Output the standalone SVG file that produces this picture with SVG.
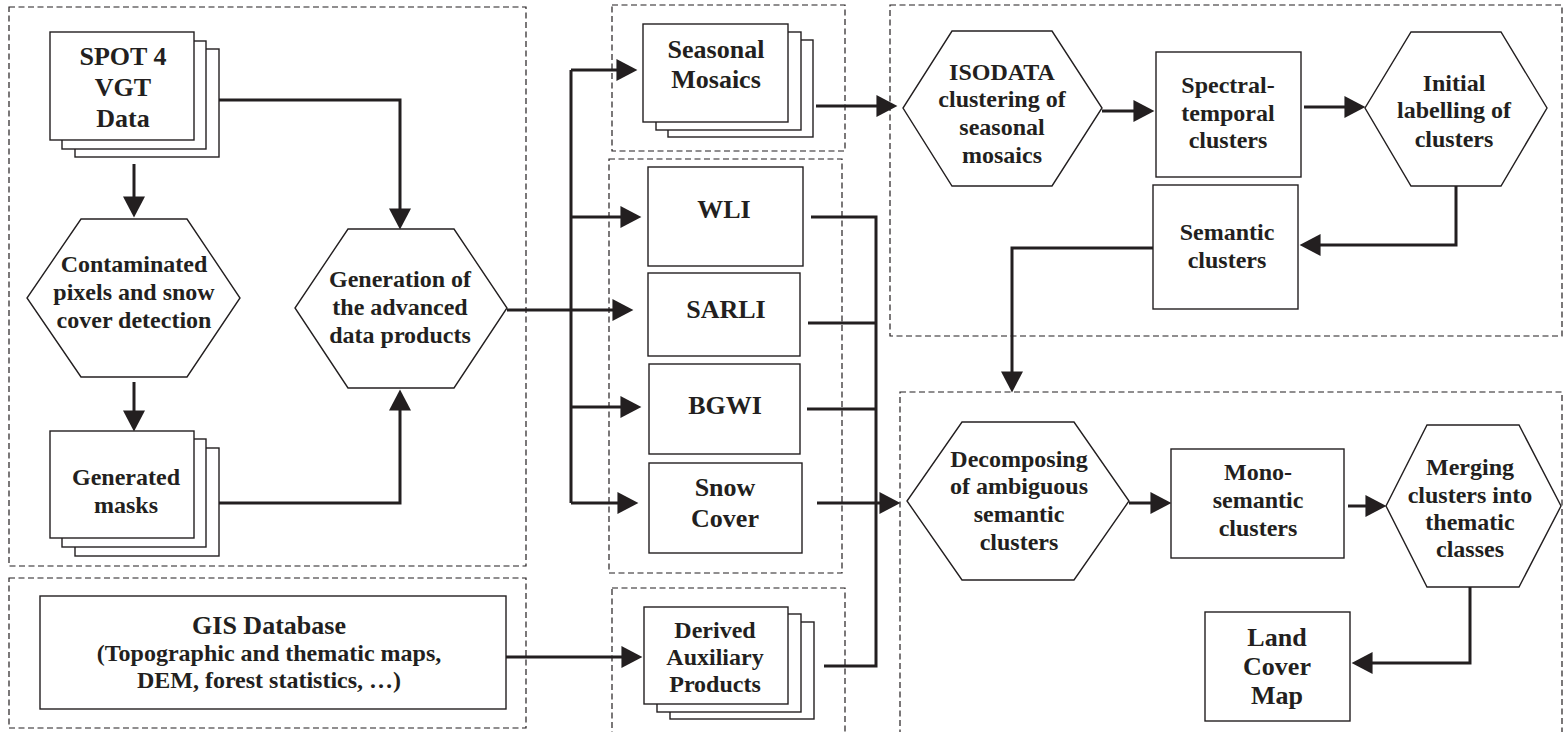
<svg xmlns="http://www.w3.org/2000/svg" width="1565" height="732" viewBox="0 0 1565 732">
<style>
.bg{fill:#ffffff}
.dash{fill:none;stroke:#231f20;stroke-width:1.2;stroke-dasharray:6 3.5}
.nd{fill:#ffffff;stroke:#231f20;stroke-width:1.4}
.cn{fill:none;stroke:#231f20;stroke-width:3}
.ar{fill:none;stroke:#231f20;stroke-width:3;marker-end:url(#ah)}
text{font-family:"Liberation Serif","Times New Roman",serif;font-weight:bold;fill:#231f20;text-anchor:middle}
.s24{font-size:24px}
.s26{font-size:26px}
</style>
<defs>
<marker id="ah" markerUnits="userSpaceOnUse" markerWidth="22" markerHeight="22" refX="12" refY="10.5" orient="auto" viewBox="0 0 20 21">
<path d="M0,0 L20,10.5 L0,21 Z" fill="#231f20"/>
</marker>
</defs>
<rect class="bg" x="0" y="0" width="1565" height="732"/>

<g id="groups">
<rect class="dash" x="9" y="7" width="517" height="559"/>
<rect class="dash" x="9" y="578" width="517" height="150"/>
<rect class="dash" x="612" y="5" width="233" height="146"/>
<rect class="dash" x="609" y="159" width="233" height="414"/>
<rect class="dash" x="612" y="588" width="233" height="160"/>
<rect class="dash" x="890" y="5" width="672" height="331"/>
<rect class="dash" x="900" y="392" width="662" height="360"/>
</g>

<g id="connectors">
<path class="ar" d="M134,164 V209"/>
<path class="ar" d="M134,382 V423"/>
<path class="ar" d="M219,100 H400 V221"/>
<path class="ar" d="M219,503 H400 V398"/>
<path class="ar" d="M507,310 H625"/>
<path class="cn" d="M571,70 V503"/>
<path class="ar" d="M571,70 H629"/>
<path class="ar" d="M571,217 H633"/>
<path class="ar" d="M571,407 H633"/>
<path class="ar" d="M571,503 H630"/>
<path class="ar" d="M816,106 H889"/>
<path class="ar" d="M1102,111 H1146"/>
<path class="ar" d="M1304,107 H1357"/>
<path class="ar" d="M1456,186 V245 H1308"/>
<path class="ar" d="M1153,248 H1012 V384"/>
<path class="ar" d="M1129,503 H1163"/>
<path class="ar" d="M1348,506 H1378"/>
<path class="ar" d="M1470,587 V663 H1360"/>
<path class="ar" d="M506,657 H634"/>
<path class="cn" d="M811,217 H876 V666 H824"/>
<path class="cn" d="M808,323 H876"/>
<path class="cn" d="M807,409 H876"/>
<path class="ar" d="M817,503 H892"/>
</g>

<g id="spot">
<rect class="nd" x="75" y="49" width="144" height="108"/>
<rect class="nd" x="62" y="41" width="144" height="108"/>
<rect class="nd" x="50" y="32" width="144" height="108"/>
<text class="s26" x="123" y="65">SPOT 4</text>
<text class="s26" x="123" y="96">VGT</text>
<text class="s26" x="123" y="127">Data</text>
</g>

<g id="contaminated">
<polygon class="nd" points="81,219 187,219 240,298 187,377 81,377 27,298"/>
<text class="s24" x="134" y="272">Contaminated</text>
<text class="s24" x="134" y="300">pixels and snow</text>
<text class="s24" x="134" y="328">cover detection</text>
</g>

<g id="masks">
<rect class="nd" x="75" y="448" width="144" height="108"/>
<rect class="nd" x="62" y="439" width="144" height="108"/>
<rect class="nd" x="50" y="431" width="144" height="107"/>
<text class="s24" x="126" y="485">Generated</text>
<text class="s24" x="126" y="513">masks</text>
</g>

<g id="generation">
<polygon class="nd" points="348,229 454,229 507,308 454,388 348,388 295,308"/>
<text class="s24" x="400" y="287">Generation of</text>
<text class="s24" x="400" y="315">the advanced</text>
<text class="s24" x="400" y="343">data products</text>
</g>

<g id="seasonal">
<rect class="nd" x="668" y="40" width="145" height="97"/>
<rect class="nd" x="656" y="32" width="145" height="98"/>
<rect class="nd" x="643" y="24" width="145" height="98"/>
<text class="s26" x="716" y="58">Seasonal</text>
<text class="s26" x="716" y="88">Mosaics</text>
</g>

<g id="wli">
<rect class="nd" x="648" y="167" width="155" height="99"/>
<text class="s26" x="724" y="218">WLI</text>
</g>
<g id="sarli">
<rect class="nd" x="648" y="273" width="152" height="83"/>
<text class="s26" x="726" y="318">SARLI</text>
</g>
<g id="bgwi">
<rect class="nd" x="649" y="364" width="151" height="90"/>
<text class="s26" x="725" y="414">BGWI</text>
</g>
<g id="snow">
<rect class="nd" x="649" y="463" width="153" height="90"/>
<text class="s26" x="725" y="496">Snow</text>
<text class="s26" x="725" y="527">Cover</text>
</g>

<g id="gis">
<rect class="nd" x="40" y="596" width="466" height="113"/>
<text class="s26" x="269" y="634">GIS Database</text>
<text class="s24" x="269" y="661">(Topographic and thematic maps,</text>
<text class="s24" x="269" y="688">DEM, forest statistics, …)</text>
</g>

<g id="derived">
<rect class="nd" x="670" y="622" width="144" height="97"/>
<rect class="nd" x="657" y="614" width="144" height="98"/>
<rect class="nd" x="644" y="607" width="144" height="97"/>
<text class="s24" x="715" y="638">Derived</text>
<text class="s24" x="715" y="665">Auxiliary</text>
<text class="s24" x="715" y="692">Products</text>
</g>

<g id="isodata">
<polygon class="nd" points="952,31 1052,31 1102,108 1052,186 952,186 903,108"/>
<text class="s24" x="1002" y="80">ISODATA</text>
<text class="s24" x="1002" y="107">clustering of</text>
<text class="s24" x="1002" y="135">seasonal</text>
<text class="s24" x="1002" y="163">mosaics</text>
</g>

<g id="spectral">
<rect class="nd" x="1156" y="52" width="145" height="125"/>
<text class="s24" x="1228" y="93">Spectral-</text>
<text class="s24" x="1228" y="121">temporal</text>
<text class="s24" x="1228" y="148">clusters</text>
</g>

<g id="initial">
<polygon class="nd" points="1411,32 1501,32 1547,108 1501,186 1411,186 1365,108"/>
<text class="s24" x="1454" y="91">Initial</text>
<text class="s24" x="1454" y="118">labelling of</text>
<text class="s24" x="1454" y="147">clusters</text>
</g>

<g id="semantic">
<rect class="nd" x="1153" y="185" width="145" height="124"/>
<text class="s24" x="1227" y="240">Semantic</text>
<text class="s24" x="1227" y="268">clusters</text>
</g>

<g id="decomposing">
<polygon class="nd" points="962,422 1074,422 1129,501 1074,580 962,580 907,501"/>
<text class="s24" x="1019" y="467">Decomposing</text>
<text class="s24" x="1019" y="494">of ambiguous</text>
<text class="s24" x="1019" y="522">semantic</text>
<text class="s24" x="1019" y="550">clusters</text>
</g>

<g id="mono">
<rect class="nd" x="1171" y="449" width="173" height="109"/>
<text class="s24" x="1258" y="480">Mono-</text>
<text class="s24" x="1258" y="508">semantic</text>
<text class="s24" x="1258" y="536">clusters</text>
</g>

<g id="merging">
<polygon class="nd" points="1427,425 1519,425 1561,506 1519,587 1427,587 1386,506"/>
<text class="s24" x="1470" y="475">Merging</text>
<text class="s24" x="1470" y="503">clusters into</text>
<text class="s24" x="1470" y="530">thematic</text>
<text class="s24" x="1470" y="557">classes</text>
</g>

<g id="landcover">
<rect class="nd" x="1205" y="612" width="145" height="109"/>
<text class="s26" x="1277" y="646">Land</text>
<text class="s26" x="1277" y="675">Cover</text>
<text class="s26" x="1277" y="704">Map</text>
</g>
</svg>
